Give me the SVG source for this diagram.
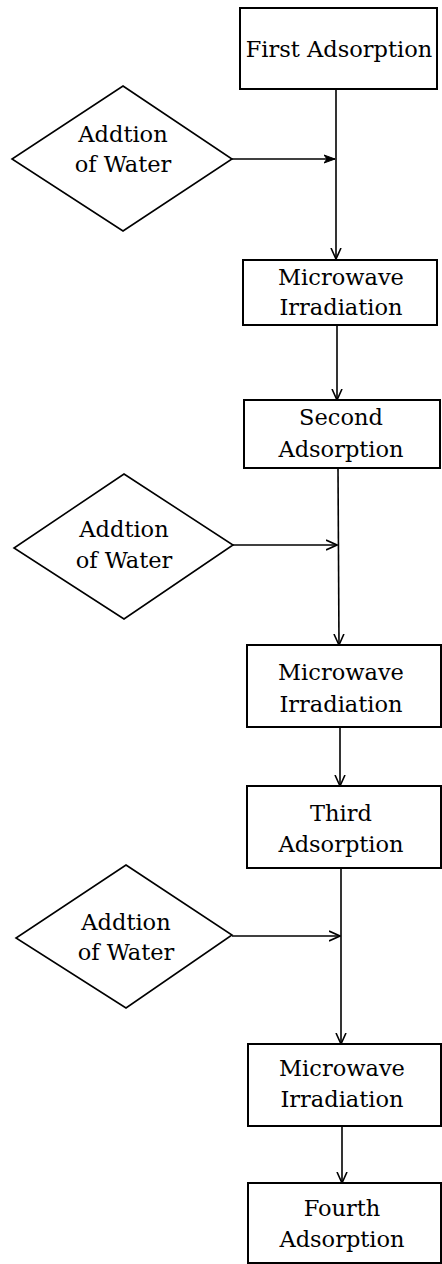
<svg xmlns="http://www.w3.org/2000/svg" width="442" height="1264" viewBox="0 0 442 1264">
<defs>
<marker id="v" markerWidth="12" markerHeight="14" refX="11" refY="6" orient="auto" markerUnits="userSpaceOnUse" viewBox="0 0 12 12">
<path d="M0,1 L11,6 L0,11" fill="none" stroke="#000" stroke-width="1.6"/>
</marker>
<marker id="vf" markerWidth="12" markerHeight="12" refX="11" refY="6" orient="auto" markerUnits="userSpaceOnUse" viewBox="0 0 12 12">
<path d="M0,2 L11,6 L0,10 L3,6 Z" fill="#000" stroke="#000" stroke-width="1"/>
</marker>
<style>
.box{fill:#fff;stroke:#000;stroke-width:2}
.dia{fill:#fff;stroke:#000;stroke-width:1.6}
.t{font-family:"DejaVu Serif","Liberation Serif",serif;font-size:22.5px;fill:#000;text-anchor:middle}
.c{fill:none;stroke:#000;stroke-width:1.6}
</style>
</defs>
<g id="connectors">
<path class="c" d="M336,89 L336,259" marker-end="url(#v)"/>
<path class="c" d="M232,159 L335,159" marker-end="url(#vf)"/>
<path class="c" d="M337,325 L337,400" marker-end="url(#v)"/>
<path class="c" d="M338,468 L339,645" marker-end="url(#v)"/>
<path class="c" d="M233,545 L337,545" marker-end="url(#v)"/>
<path class="c" d="M340,727 L340,786" marker-end="url(#v)"/>
<path class="c" d="M341,868 L341,1044" marker-end="url(#v)"/>
<path class="c" d="M232,936 L340,936" marker-end="url(#v)"/>
<path class="c" d="M342,1126 L342,1183" marker-end="url(#v)"/>
</g>
<g id="first-adsorption">
<rect class="box" x="240" y="8" width="197" height="81"/>
<text class="t" x="339" y="57">First Adsorption</text>
</g>
<g id="water-1">
<polygon class="dia" points="123,86 232,159 123,231 12,159"/>
<text class="t" x="123" y="142">Addtion</text>
<text class="t" x="123" y="172">of Water</text>
</g>
<g id="microwave-1">
<rect class="box" x="243" y="260" width="194" height="65"/>
<text class="t" x="341" y="285">Microwave</text>
<text class="t" x="341" y="315">Irradiation</text>
</g>
<g id="second-adsorption">
<rect class="box" x="244" y="400" width="196" height="68"/>
<text class="t" x="341" y="425">Second</text>
<text class="t" x="341" y="457">Adsorption</text>
</g>
<g id="water-2">
<polygon class="dia" points="124,474 233,545 124,619 14,548"/>
<text class="t" x="124" y="537">Addtion</text>
<text class="t" x="124" y="568">of Water</text>
</g>
<g id="microwave-2">
<rect class="box" x="247" y="645" width="194" height="82"/>
<text class="t" x="341" y="680">Microwave</text>
<text class="t" x="341" y="712">Irradiation</text>
</g>
<g id="third-adsorption">
<rect class="box" x="247" y="786" width="194" height="82"/>
<text class="t" x="341" y="821">Third</text>
<text class="t" x="341" y="852">Adsorption</text>
</g>
<g id="water-3">
<polygon class="dia" points="126,865 232,935 126,1008 16,938"/>
<text class="t" x="126" y="930">Addtion</text>
<text class="t" x="126" y="960">of Water</text>
</g>
<g id="microwave-3">
<rect class="box" x="248" y="1044" width="193" height="82"/>
<text class="t" x="342" y="1076">Microwave</text>
<text class="t" x="342" y="1107">Irradiation</text>
</g>
<g id="fourth-adsorption">
<rect class="box" x="248" y="1183" width="193" height="80"/>
<text class="t" x="342" y="1216">Fourth</text>
<text class="t" x="342" y="1247">Adsorption</text>
</g>
</svg>
